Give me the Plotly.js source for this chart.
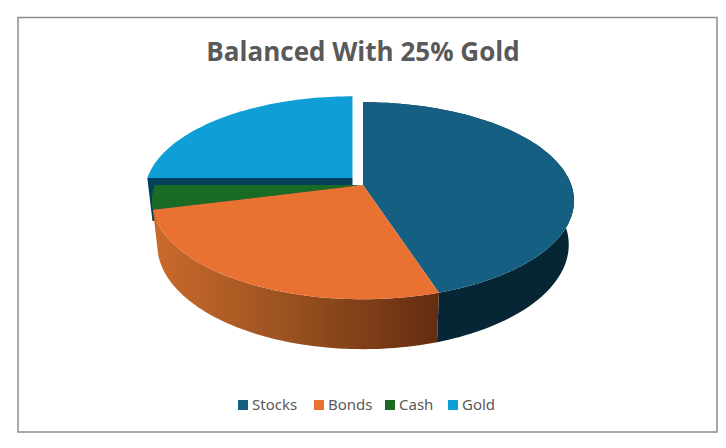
<!DOCTYPE html>
<html>
<head>
<meta charset="utf-8">
<script src="https://cdn.plot.ly/plotly-3.0.1.min.js"></script>
<style>html,body{margin:0;padding:0;background:#fff}#chart{width:726px;height:448px}</style>
</head>
<body>
<div id="chart"></div>
<script>
var chartTitle = 'Balanced With 25% Gold';
var categories = ['Stocks', 'Bonds', 'Cash', 'Gold'];
var shares = [45, 26, 4, 25];
var topColors = ['#156082', '#E97132', '#196B24', '#0F9ED5'];
var textColor = '#595959';

// Projection of the tilted disc onto the page (page pixels are the axis units)
var view = {cx: 363, cy: 185, a: 208.3, b: 96, k: 0.16};
var wall = {sx: 0.975, sy: 1.06, drop: 43};
var goldShift = {dx: -10.5, dy: -7, r: 0.985};
var none = {dx: 0, dy: 0, r: 1};

function project(deg, shift) {
  var t = deg * Math.PI / 180, X = shift.r * Math.sin(t), Y = shift.r * Math.cos(t), w = 1 + view.k * Y;
  return [view.cx + view.a * X / w + shift.dx, view.cy - view.b * Y / w + shift.dy];
}
function arc(d0, d1, shift) {
  var pts = [], n = Math.max(8, Math.ceil(Math.abs(d1 - d0) / 1.5));
  for (var i = 0; i <= n; i++) pts.push(project(d0 + (d1 - d0) * i / n, shift));
  return pts;
}
function lower(p, shift) {
  var x0 = view.cx + shift.dx, y0 = view.cy + shift.dy;
  return [x0 + (p[0] - x0) * wall.sx, y0 + (p[1] - y0) * wall.sy + wall.drop];
}
function poly(pts, extra) {
  var t = {type: 'scatter', mode: 'none', fill: 'toself', hoverinfo: 'text',
    x: pts.map(function (p) { return p[0]; }).concat([pts[0][0]]),
    y: pts.map(function (p) { return p[1]; }).concat([pts[0][1]]), showlegend: false};
  for (var key in extra) t[key] = extra[key];
  return t;
}
var bounds = [], run = 0;
shares.forEach(function (v) { bounds.push([run * 3.6, (run + v) * 3.6]); run += v; });

function face(i, shift) {
  var apex = [view.cx + shift.dx, view.cy + shift.dy];
  return poly([apex].concat(arc(bounds[i][0], bounds[i][1], shift)), {
    fillcolor: topColors[i], name: categories[i], text: categories[i] + ': ' + shares[i] + '%'
  });
}
function rim(i, shift, style) {
  var top = arc(bounds[i][0], bounds[i][1], shift);
  var bottom = top.map(function (p) { return lower(p, shift); }).reverse();
  return poly(top.concat(bottom), Object.assign({name: categories[i] + ' side', text: categories[i]}, style));
}
function cutWall(i, shift, color) {
  var apex = [view.cx + shift.dx, view.cy + shift.dy];
  var edge = project(bounds[i][0], shift);
  return poly([edge, apex, lower(apex, shift), lower(edge, shift)], {fillcolor: color, name: categories[i] + ' cut', text: categories[i]});
}

var traces = [
  cutWall(3, goldShift, '#04405C'),
  face(3, goldShift),
  face(2, none),
  rim(0, none, {fillcolor: '#072635'}),
  rim(1, none, {fillcolor: '#8f4a20', fillgradient: {type: 'horizontal',
    colorscale: [[0, '#CB6A2C'], [0.5, '#97501F'], [1, '#642C10']]}}),
  face(0, none),
  face(1, none)
];

// Legend row
var legendSwatchX = [238, 314, 385, 448];
var shapes = [{type: 'rect', xref: 'x', yref: 'y', x0: 18, y0: 17.5, x1: 717, y1: 432,
  line: {color: '#8C8C8C', width: 1.5}, fillcolor: 'rgba(0,0,0,0)', layer: 'below'}];
var annotations = [];
categories.forEach(function (c, i) {
  shapes.push({type: 'rect', xref: 'x', yref: 'y', x0: legendSwatchX[i], x1: legendSwatchX[i] + 10,
    y0: 400, y1: 410, line: {width: 0}, fillcolor: topColors[i]});
  annotations.push({xref: 'x', yref: 'y', x: legendSwatchX[i] + 12, y: 404, text: c, showarrow: false,
    xanchor: 'left', yanchor: 'middle', font: {family: 'Noto Sans, sans-serif', size: 15, color: textColor}});
});

Plotly.newPlot('chart', traces, {
  width: 726, height: 448, margin: {l: 0, r: 0, t: 0, b: 0},
  paper_bgcolor: '#fff', plot_bgcolor: '#fff', showlegend: false,
  title: {text: '<b>' + chartTitle + '</b>', x: 363 / 726, xanchor: 'center', y: 1 - 52 / 448, yanchor: 'middle',
    font: {family: 'Open Sans, sans-serif', size: 26, color: textColor}},
  xaxis: {range: [0, 726], visible: false, fixedrange: true},
  yaxis: {range: [448, 0], visible: false, fixedrange: true},
  shapes: shapes, annotations: annotations
}, {displayModeBar: false});
</script>
</body>
</html>
